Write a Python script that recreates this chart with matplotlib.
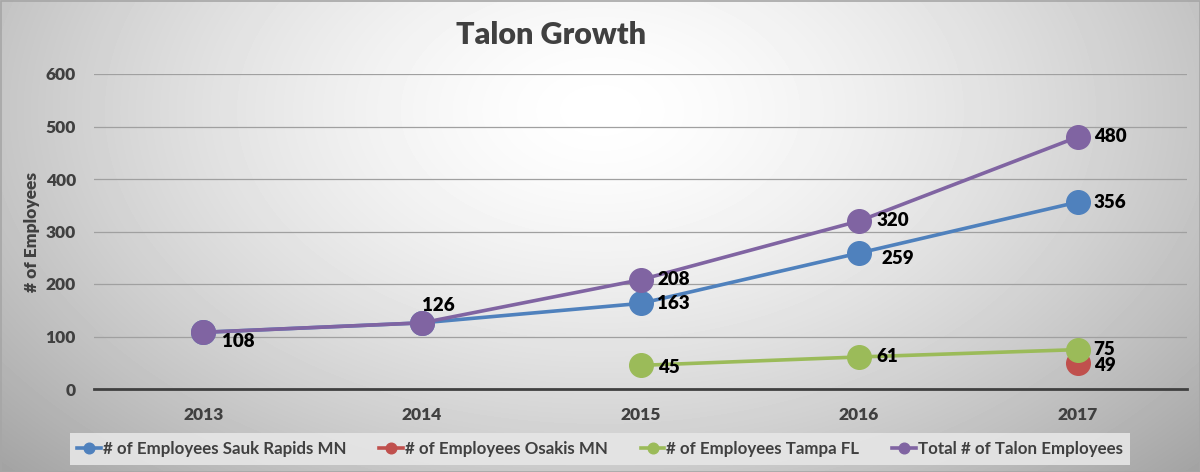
import matplotlib
matplotlib.use("Agg")
import matplotlib.pyplot as plt
import numpy as np

# data
years = ["2013", "2014", "2015", "2016", "2017"]
sauk_rapids = [108, 126, 163, 259, 356]
osakis = [None, None, None, None, 49]
tampa = [None, None, 45, 61, 75]
total = [108, 126, 208, 320, 480]

series_names = ["# of Employees Sauk Rapids MN", "# of Employees Osakis MN",
                "# of Employees Tampa FL", "Total # of Talon Employees"]
colors = ["#4F81BD", "#C0504D", "#9BBB59", "#8064A2"]

plt.rcParams["font.family"] = ["Lato", "DejaVu Sans"]

W, H = 1200, 472
fig = plt.figure(figsize=(W / 100, H / 100), dpi=100)

# radial grey background
bg = fig.add_axes([0, 0, 1, 1], zorder=-10)
yy, xx = np.mgrid[0:H, 0:W]
cx, cy = 600, 110
d = np.sqrt(((xx - cx) / 680.0) ** 2 + ((yy - cy) / 430.0) ** 2)
shade = 1.0 - 0.27 * np.clip(d, 0, 1.25) ** 1.5
bg.imshow(shade, cmap="gray", vmin=0, vmax=1, aspect="auto", extent=[0, W, H, 0])
bg.set_xlim(0, W)
bg.set_ylim(H, 0)
bg.axis("off")
bg.add_patch(plt.Rectangle((0.5, 0.5), W - 1, H - 1, fill=False, ec="#a6a6a6", lw=1.2))

# plot area: x 94..1187 px, y 74..389 px
ax = fig.add_axes([94 / W, 83 / H, 1093 / W, 315 / H])
ax.patch.set_alpha(0)
x = np.arange(len(years))


def to_arr(vals):
    return np.array([np.nan if v is None else v for v in vals], dtype=float)


all_series = [sauk_rapids, osakis, tampa, total]
for vals, name, c in zip(all_series, series_names, colors):
    ax.plot(x, to_arr(vals), color=c, lw=2.6, marker="o", ms=17,
            label=name, clip_on=False, zorder=3)

# data labels: (series index, point index, dx px, dy px)
label_spots = [
    (3, 0, 19, -9), (3, 1, 0, 17), (3, 2, 17, 0), (0, 2, 17, 0),
    (2, 2, 18, -2), (3, 3, 17, 0), (0, 3, 22, -5), (2, 3, 17, 0),
    (3, 4, 16, 0), (0, 4, 16, 0), (2, 4, 16, 0), (1, 4, 16, -2),
]
for si, pi, dx, dy in label_spots:
    v = all_series[si][pi]
    ax.annotate(str(v), (x[pi], v), xytext=(dx * 0.72, dy * 0.72),
                textcoords="offset points", ha="left", va="center",
                fontsize=13.5, fontweight="heavy", color="black", zorder=5)

ax.set_xlim(-0.5, len(years) - 0.5)
ax.set_ylim(0, 600)
ax.set_yticks(range(0, 601, 100))
ax.set_xticks(x)
ax.set_xticklabels(years)
ax.grid(axis="y", color="#a0a0a0", lw=0.9)
ax.set_axisbelow(True)
for s in ["top", "right", "left"]:
    ax.spines[s].set_visible(False)
ax.spines["bottom"].set_color("#404040")
ax.spines["bottom"].set_linewidth(2)
ax.tick_params(length=0, labelsize=12.5, labelcolor="#404040")
ax.tick_params(axis="x", pad=13)
ax.tick_params(axis="y", pad=13)
for t in ax.get_xticklabels() + ax.get_yticklabels():
    t.set_fontweight("heavy")

ax.set_ylabel("# of Employees", fontsize=12.5, fontweight="heavy", color="#404040")
ax.yaxis.set_label_coords((40 - 94) / 1093, 0.5)

fig.text(551 / W, 1 - 35 / H, "Talon Growth", ha="center", va="center",
         fontsize=22, fontweight="heavy", color="#404040")

leg = fig.legend(loc="center", ncol=4,
                 bbox_to_anchor=(600 / W, 1 - 449 / H),
                 frameon=True, fancybox=False, handlelength=1.4,
                 handletextpad=0.1, columnspacing=1.95, borderpad=0.45,
                 borderaxespad=0, markerscale=0.45,
                 prop={"size": 12.2, "weight": "bold"})
leg.get_frame().set_facecolor("#e6e6e6")
leg.get_frame().set_edgecolor("none")
leg.get_frame().set_alpha(0.9)
for t in leg.get_texts():
    t.set_color("#404040")

fig.savefig("out.png", dpi=100)
